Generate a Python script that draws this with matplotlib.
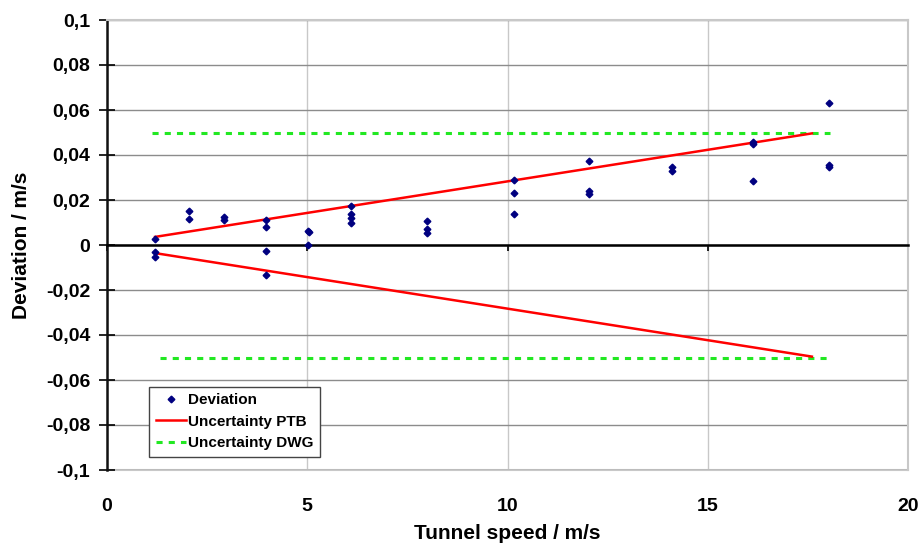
import matplotlib.pyplot as plt
from matplotlib.ticker import FuncFormatter, MultipleLocator

plt.rcParams['font.family'] = ['Liberation Sans', 'DejaVu Sans']

# measured deviations per tunnel speed
speed = [1.2, 1.2, 1.2,
         2.05, 2.05,
         2.93, 2.93,
         3.96, 3.96, 3.96, 3.96,
         5.03, 5.05, 5.03,
         6.1, 6.1, 6.1, 6.1,
         8.0, 8.0, 8.0,
         10.15, 10.15, 10.15,
         12.04, 12.04, 12.04,
         14.1, 14.1,
         16.14, 16.14, 16.14,
         18.03, 18.03, 18.03]
deviation = [0.0027, -0.003, -0.0052,
             0.0151, 0.0114,
             0.0126, 0.0111,
             0.0111, 0.0079, -0.0025, -0.0135,
             0.0062, 0.0057, 0.0,
             0.0175, 0.0138, 0.0119, 0.0096,
             0.0107, 0.007, 0.0055,
             0.0289, 0.023, 0.0136,
             0.0375, 0.0241, 0.0225,
             0.0348, 0.0329,
             0.0456, 0.0449, 0.0284,
             0.0632, 0.0356, 0.0345]

ptb_x = [1.2, 17.6]
ptb_upper = [0.0036, 0.0496]
ptb_lower = [-0.0036, -0.0496]

dwg_upper_x = [1.12, 18.05]
dwg_upper = [0.05, 0.05]
dwg_lower_x = [1.32, 18.05]
dwg_lower = [-0.05, -0.05]

x_ticks = [0, 5, 10, 15, 20]

fig = plt.figure(figsize=(9.22, 5.51), dpi=100)
ax = fig.add_axes([107 / 922, 81 / 551, 801 / 922, 450 / 551])

ax.set_xlim(0, 20)
ax.set_ylim(-0.1, 0.1)
ax.yaxis.set_major_locator(MultipleLocator(0.02))
ax.set_xticks(x_ticks)

ax.grid(axis='y', color='#8c8c8c', lw=1.0, zorder=0)
ax.grid(axis='x', color='#c8c8c8', lw=1.0, zorder=0)

ax.plot(dwg_upper_x, dwg_upper, color='#22e822', lw=2.2, dashes=(2, 2),
        label='Uncertainty DWG', zorder=3)
ax.plot(dwg_lower_x, dwg_lower, color='#22e822', lw=2.2, dashes=(2, 2), zorder=3)
ax.plot(ptb_x, ptb_upper, color='#ff0000', lw=1.8, label='Uncertainty PTB', zorder=4)
ax.plot(ptb_x, ptb_lower, color='#ff0000', lw=1.8, zorder=4)
ax.plot(speed, deviation, 'D', color='#000080', ms=3.4, ls='none',
        label='Deviation', zorder=5)

def comma(v, pos):
    if abs(v) < 1e-9:
        return '0'
    return ('%g' % round(v, 3)).replace('.', ',')

ax.yaxis.set_major_formatter(FuncFormatter(comma))
ax.tick_params(axis='y', direction='inout', length=12, width=1.2, pad=6,
               labelsize=14)
for t in ax.get_yticklabels():
    t.set_fontweight('bold')

# x axis crosses at zero, labels sit at the bottom of the plot
ax.spines['bottom'].set_position(('data', 0))
ax.spines['bottom'].set_color('black')
ax.spines['bottom'].set_linewidth(1.8)
ax.spines['left'].set_linewidth(1.8)
ax.spines['left'].set_color('#111111')
ax.spines['top'].set_color('#c8c8c8')
ax.spines['right'].set_color('#c8c8c8')
ax.spines['top'].set_linewidth(1.5)
ax.spines['right'].set_linewidth(1.5)
ax.tick_params(axis='x', direction='out', length=4, width=1.2, labelbottom=False)

sec = ax.secondary_xaxis('bottom')
sec.set_xticks(x_ticks)
sec.spines['bottom'].set_color('#c8c8c8')
sec.spines['bottom'].set_linewidth(1.5)
sec.tick_params(length=0, pad=20.5, labelsize=14)
for t in sec.get_xticklabels():
    t.set_fontweight('bold')
sec.set_xlabel('Tunnel speed / m/s', fontsize=15, fontweight='bold', labelpad=6)

ax.set_ylabel('Deviation / m/s', fontsize=15, fontweight='bold', labelpad=11)

handles, labels = ax.get_legend_handles_labels()
order = [2, 1, 0]
leg = ax.legend([handles[i] for i in order], [labels[i] for i in order],
                loc='lower left', bbox_to_anchor=(0.053, 0.03),
                fancybox=False, edgecolor='#444444', framealpha=1,
                prop={'weight': 'bold', 'size': 11}, handlelength=2.0,
                handletextpad=0.15, borderpad=0.4, labelspacing=0.5,
                borderaxespad=0.0)
leg.get_frame().set_linewidth(1.0)

fig.savefig('out.png', dpi=100)
